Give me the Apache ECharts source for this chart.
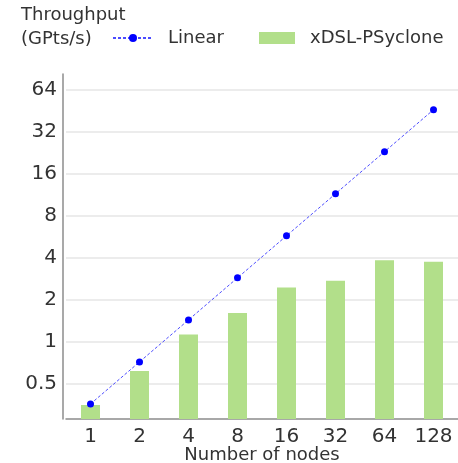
<!DOCTYPE html>
<html>
<head>
<meta charset="utf-8">
<script src="https://cdn.jsdelivr.net/npm/echarts@6/dist/echarts.min.js"></script>
<style>html,body{margin:0;padding:0;background:#fff;}#c{width:458px;height:463px;}</style>
</head>
<body>
<div id="c"></div>
<script>
const nodes = ['1', '2', '4', '8', '16', '32', '64', '128'];
const linear = [0.36, 0.72, 1.44, 2.88, 5.76, 11.52, 23.04, 46.08];
const xdsl = [0.354, 0.62, 1.13, 1.61, 2.46, 2.74, 3.85, 3.76];
const yMin = 0.281, yMax = 83;
const FONT = 'DejaVu Sans';

const chart = echarts.init(document.getElementById('c'), null, {renderer: 'canvas'});
chart.setOption({
  animation: false,
  textStyle: {fontFamily: FONT, color: '#333'},
  title: {
    text: 'Throughput\n(GPts/s)', left: 21, top: 3, padding: 0,
    textStyle: {fontFamily: FONT, fontSize: 18, fontWeight: 'normal', color: '#333', lineHeight: 24}
  },
  legend: [{
    data: ['Linear'], left: 112, top: 29, padding: 0, itemWidth: 40, itemHeight: 10,
    textStyle: {fontFamily: FONT, fontSize: 18, color: '#333', padding: [0, 0, 0, 10]}
  }, {
    data: [{name: 'xDSL-PSyclone', icon: 'rect'}], left: 259, top: 29, padding: 0, itemWidth: 36, itemHeight: 12,
    textStyle: {fontFamily: FONT, fontSize: 18, color: '#333', padding: [0, 0, 0, 10]}
  }],
  grid: {left: 66, right: 0, top: 74, bottom: 44, containLabel: false, outerBoundsMode: 'none'},
  xAxis: {
    type: 'category', data: nodes,
    name: 'Number of nodes', nameLocation: 'middle', nameGap: 27, nameMoveOverlap: false,
    nameTextStyle: {fontFamily: FONT, fontSize: 18, color: '#333', verticalAlign: 'top'},
    axisLine: {lineStyle: {color: '#8c8c8c', width: 1.5}},
    axisTick: {show: false},
    axisLabel: {interval: 0, fontFamily: FONT, fontSize: 20, color: '#333', margin: 8}
  },
  yAxis: {
    type: 'log', logBase: 2, min: yMin, max: yMax, startValue: yMin, splitNumber: 8, offset: 3,
    axisLine: {show: true, lineStyle: {color: '#8c8c8c', width: 1.5}},
    axisTick: {show: false},
    axisLabel: {fontFamily: FONT, fontSize: 20, color: '#333', margin: 6, showMinLabel: false, showMaxLabel: false,
      formatter: v => String(+(+v).toPrecision(6))},
    splitLine: {show: true, showMinLine: false, showMaxLine: false, lineStyle: {color: '#e6e6e6', width: 1.5}}
  },
  series: [{
    name: 'xDSL-PSyclone', type: 'bar', data: xdsl, barWidth: 19,
    itemStyle: {color: '#b2df8a'}, z: 1
  }, {
    name: 'Linear', type: 'line', data: linear,
    symbol: 'circle', symbolSize: 7,
    itemStyle: {color: '#0000ff'},
    lineStyle: {color: 'rgba(0,0,255,0.7)', width: 1, type: [3, 2]}, z: 3
  }]
});
</script>
</body>
</html>
